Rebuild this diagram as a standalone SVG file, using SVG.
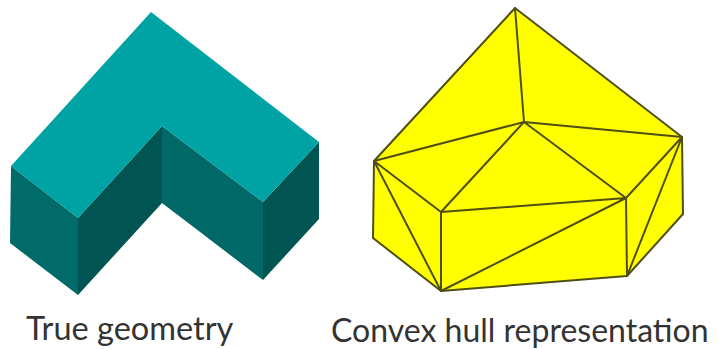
<svg xmlns="http://www.w3.org/2000/svg" width="720" height="349" viewBox="0 0 720 349">
<style>
.lbl{font-family:"Lato","Liberation Sans",sans-serif;font-size:32px;fill:#333}
.e{stroke:#4f4f12;stroke-width:2;fill:none;stroke-linejoin:round;stroke-linecap:round}
</style>
<rect width="720" height="349" fill="#fff"/>
<g id="true-geometry">
<polygon points="11,166 78,218 78,295 10,243" fill="#006b68"/>
<polygon points="78,218 162,126 162,203 78,295" fill="#005452"/>
<polygon points="162,126 263,202 263,280 162,203" fill="#006866"/>
<polygon points="263,202 319,142 319,219 263,280" fill="#005452"/>
<polygon points="151,12 319,142 263,202 162,126 78,218 11,166" fill="#00a3a3"/>
</g>
<g id="convex-hull">
<polygon points="515,8 682,137 683,214 627,276 441,291 373,238 374,161" fill="#ffff00"/>
<polygon class="e" points="515,8 682,137 683,214 627,276 441,291 373,238 374,161"/>
<path class="e" d="M515,8L524,122M374,161L524,122L682,137M374,161L441,212L524,122L626,198L682,137M441,212L626,198M441,212V291M626,198L627,276M441,291L626,198M374,161L441,291M682,137L627,276"/>
</g>
<text class="lbl" x="26" y="340" style="font-size:32.5px">True geometry</text>
<text class="lbl" x="331" y="342">Convex hull representation</text>
</svg>
